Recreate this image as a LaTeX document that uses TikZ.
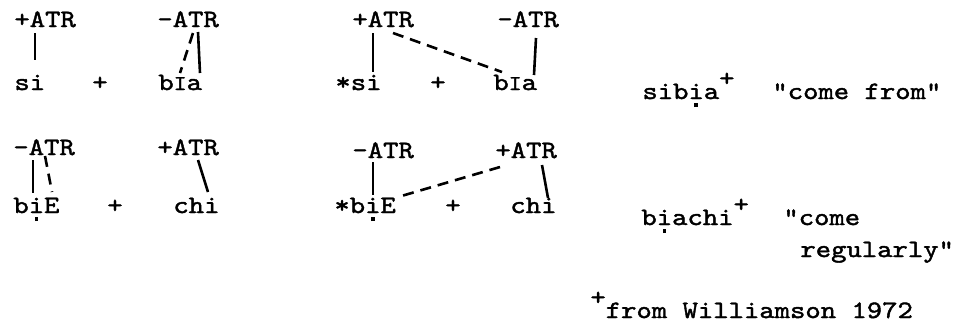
\documentclass[tikz,border=0pt]{standalone}
\usepackage{fontspec}
\usetikzlibrary{calc}
\newfontfamily\typew{lmmono10-regular.otf}[FakeStretch=1.17,FakeBold=1.6]
\newcommand\tw{\typew\fontsize{12.5}{15}\selectfont}
\newcommand\udot[1]{\oalign{#1\crcr\hidewidth\rule[-4pt]{1.9pt}{1.9pt}\hidewidth}}
\newcommand\smI{{\fontsize{10.5}{12}\selectfont I}}
\newcommand\supplus{\raisebox{6.5pt}{+}}
\tikzset{word/.style={font=\tw, inner sep=0pt, anchor=base west}, plus/.style={font=\tw, inner sep=0pt, anchor=base}, tie/.style={line width=1.3pt}, link/.style={line width=1.3pt, dash pattern=on 5.5pt off 3.5pt}, hair/.style={line width=.6pt}}
\begin{document}
\begin{tikzpicture}[x=.5pt,y=-.5pt]
\useasboundingbox (0,0) rectangle (963,329);
\node[word] (a1) at (14,27) {+ATR}; \node[word] (w1) at (14,90) {si}; \node[plus] (p1) at (100,90) {+};
\node[word] (a2) at (157,27) {-ATR}; \node[word] (w2) at (158,90) {b\smI a};
\node[word] (a3) at (352,27) {+ATR}; \node[word] (w3) at (335,90) {*si}; \node[plus] (p2) at (438,90) {+};
\node[word] (a4) at (497,27) {-ATR}; \node[word] (w4) at (493,90) {b\smI a};
\node[word] (g1) at (642,99) {sib\udot{i}a\supplus}; \node[word] (q1) at (772,99) {"come from"};
\node[word] (a5) at (13,155) {-ATR}; \node[word] (a6) at (157,155) {+ATR};
\node[word] (w5) at (13,213) {b\udot{i}E}; \node[plus] (p3) at (115,213) {+}; \node[word] (w6) at (173,213) {chi};
\node[word] (a7) at (352,158) {-ATR}; \node[word] (a8) at (495,158) {+ATR};
\node[word] (w7) at (334,213) {*b\udot{i}E}; \node[plus] (p4) at (453,213) {+}; \node[word] (w8) at (510,213) {chi};
\node[word] (g2) at (641,225) {b\udot{i}achi\supplus}; \node[word] (q2) at (783,225) {"come};
\node[word] (q3) at (800,257) {regularly"};
\node[word] (fn) at (590,318) {\supplus from Williamson 1972};
\draw[hair] ($(a1.base west)+(21,6)$) -- ($(w1.base west)+(21,-30)$);
\draw[tie] ($(a2.base west)+(41,5)$) -- ($(w2.base west)+(42,-17)$); \draw[link] ($(a2.base west)+(36,6)$) -- ($(w2.base west)+(22,-17)$);
\draw[tie] ($(a3.base west)+(21,6)$) -- ($(w3.base west)+(38,-18)$); \draw[link] ($(a3.base west)+(41,6)$) -- ($(w4.base west)+(9,-18)$);
\draw[tie] ($(a4.base west)+(39,11)$) -- ($(w4.base west)+(41,-15)$);
\draw[tie] ($(a5.base west)+(20,5)$) -- ($(w5.base west)+(20,-20)$); \draw[link] ($(a5.base west)+(32,1)$) -- ($(w5.base west)+(39,-21)$);
\draw[tie] ($(a6.base west)+(41,5)$) -- ($(w6.base west)+(35,-21)$);
\draw[tie] ($(a7.base west)+(21,4)$) -- ($(w7.base west)+(39,-18)$); \draw[link] ($(a8.base west)+(5,9)$) -- ($(w7.base west)+(64,-16)$);
\draw[tie] ($(a8.base west)+(47,7)$) -- ($(w8.base west)+(38,-15)$);
\end{tikzpicture}
\end{document}
